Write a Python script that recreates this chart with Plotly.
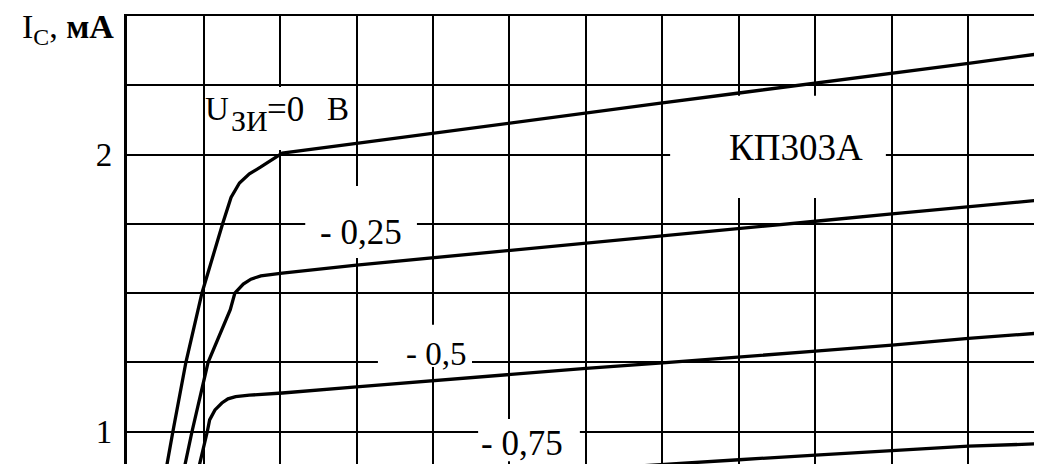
import plotly.graph_objects as go

# ---- data (U_SI in V on x, I_C in mA on y) ----
x_u0 = [0.47, 0.52, 0.60, 0.77, 0.98, 1.25, 1.36, 1.47, 1.60, 1.75, 1.91, 2.03, 3, 4, 5, 6, 7, 8, 9, 10, 11, 11.96]
y_u0 = [0.80, 0.883, 1.00, 1.25, 1.50, 1.75, 1.845, 1.897, 1.930, 1.955, 1.982, 2.005, 2.040, 2.077, 2.113, 2.149, 2.186, 2.222, 2.257, 2.293, 2.329, 2.365]

x_u025 = [0.72, 0.76, 0.85, 1.06, 1.35, 1.41, 1.52, 1.62, 1.75, 1.90, 2.03, 3, 4, 5, 6, 7, 8, 9, 10, 11, 11.96]
y_u025 = [0.80, 0.883, 1.00, 1.25, 1.44, 1.50, 1.532, 1.550, 1.562, 1.568, 1.572, 1.601, 1.627, 1.654, 1.680, 1.706, 1.732, 1.759, 1.786, 1.812, 1.836]

x_u05 = [0.90, 0.95, 1.05, 1.08, 1.15, 1.24, 1.32, 1.42, 1.60, 2.03, 3, 4, 5, 6, 7, 8, 9, 10, 11, 11.96]
y_u05 = [0.80, 0.883, 1.00, 1.042, 1.078, 1.103, 1.118, 1.126, 1.131, 1.139, 1.161, 1.184, 1.206, 1.228, 1.248, 1.268, 1.290, 1.312, 1.336, 1.356]

x_u075 = [2.03, 3, 4, 5, 6, 7, 8, 9, 10, 11, 11.96]
y_u075 = [0.795, 0.812, 0.830, 0.848, 0.865, 0.882, 0.898, 0.915, 0.932, 0.947, 0.956]

y_tickvals = [1, 2]
y_ticktext = ["1", "2"]

# curve labels: text, font size, anchor, x, y (middle)
label_text = ["U", "ЗИ", "=0", "В", "- 0,25", "- 0,5", "- 0,75", "КП303А"]
label_size = [33, 30, 35, 33, 35, 33, 35, 37]
label_anchor = ["left", "left", "left", "left", "center", "center", "center", "center"]
label_x = [1.01, 1.35, 1.82, 2.60, 3.06, 4.04, 5.16, 8.75]
label_y = [2.163, 2.122, 2.163, 2.163, 1.718, 1.280, 0.956, 2.025]
# white boxes behind labels (interrupt grid lines): x0, x1, y0, y1
box_x0 = [1.03, 2.33, 3.28, 4.59, 7.10]
box_x1 = [2.95, 3.79, 4.51, 5.92, 9.92]
box_y0 = [2.016, 1.626, 1.233, 0.893, 1.843]
box_y1 = [2.244, 1.886, 1.385, 1.045, 2.212]

FONT = "Liberation Serif"

fig = go.Figure()
for xs, ys in [(x_u0, y_u0), (x_u025, y_u025), (x_u05, y_u05), (x_u075, y_u075)]:
    fig.add_trace(go.Scatter(x=xs, y=ys, mode="lines",
                             line=dict(color="black", width=3.3),
                             showlegend=False, hoverinfo="skip"))

for x0, x1, y0, y1 in zip(box_x0, box_x1, box_y0, box_y1):
    fig.add_shape(type="rect", xref="x", yref="y", x0=x0, x1=x1, y0=y0, y1=y1,
                  fillcolor="white", line=dict(width=0), layer="between")

for t, s, a, x, y in zip(label_text, label_size, label_anchor, label_x, label_y):
    fig.add_annotation(x=x, y=y, xref="x", yref="y", text=t, showarrow=False,
                       font=dict(family=FONT, size=s, color="black"),
                       xanchor=a, yanchor="middle", borderpad=0)

fig.add_annotation(x=0, y=2.453, xref="paper", yref="y", text="I<sub>C</sub>, <b>мА</b>",
                   showarrow=False, xanchor="right", yanchor="middle", xshift=-11,
                   font=dict(family=FONT, size=34, color="black"))

fig.update_xaxes(range=[0, 11.961], dtick=1, tick0=0, showticklabels=False,
                 showgrid=True, gridcolor="black", gridwidth=1.7, zeroline=False,
                 side="top", showline=True, linecolor="black", linewidth=1.7, ticks="",
                 automargin=False)
fig.update_yaxes(range=[0.8827, 2.5], tickvals=y_tickvals, ticktext=y_ticktext,
                 showgrid=True, gridcolor="black", gridwidth=1.7, zeroline=False,
                 minor=dict(dtick=0.25, tick0=0, showgrid=True, gridcolor="black", gridwidth=1.7),
                 showline=True, linecolor="black", linewidth=3.3, ticks="",
                 ticklabelstandoff=5, automargin=False,
                 tickfont=dict(family=FONT, size=33, color="black"))

# page body has an 8px default margin; the figure is sized so it ends at the window edge
fig.update_layout(width=1034, height=456, margin=dict(l=119, r=0, t=8, b=0),
                  plot_bgcolor="white", paper_bgcolor="white")

fig.write_html("out.html")
